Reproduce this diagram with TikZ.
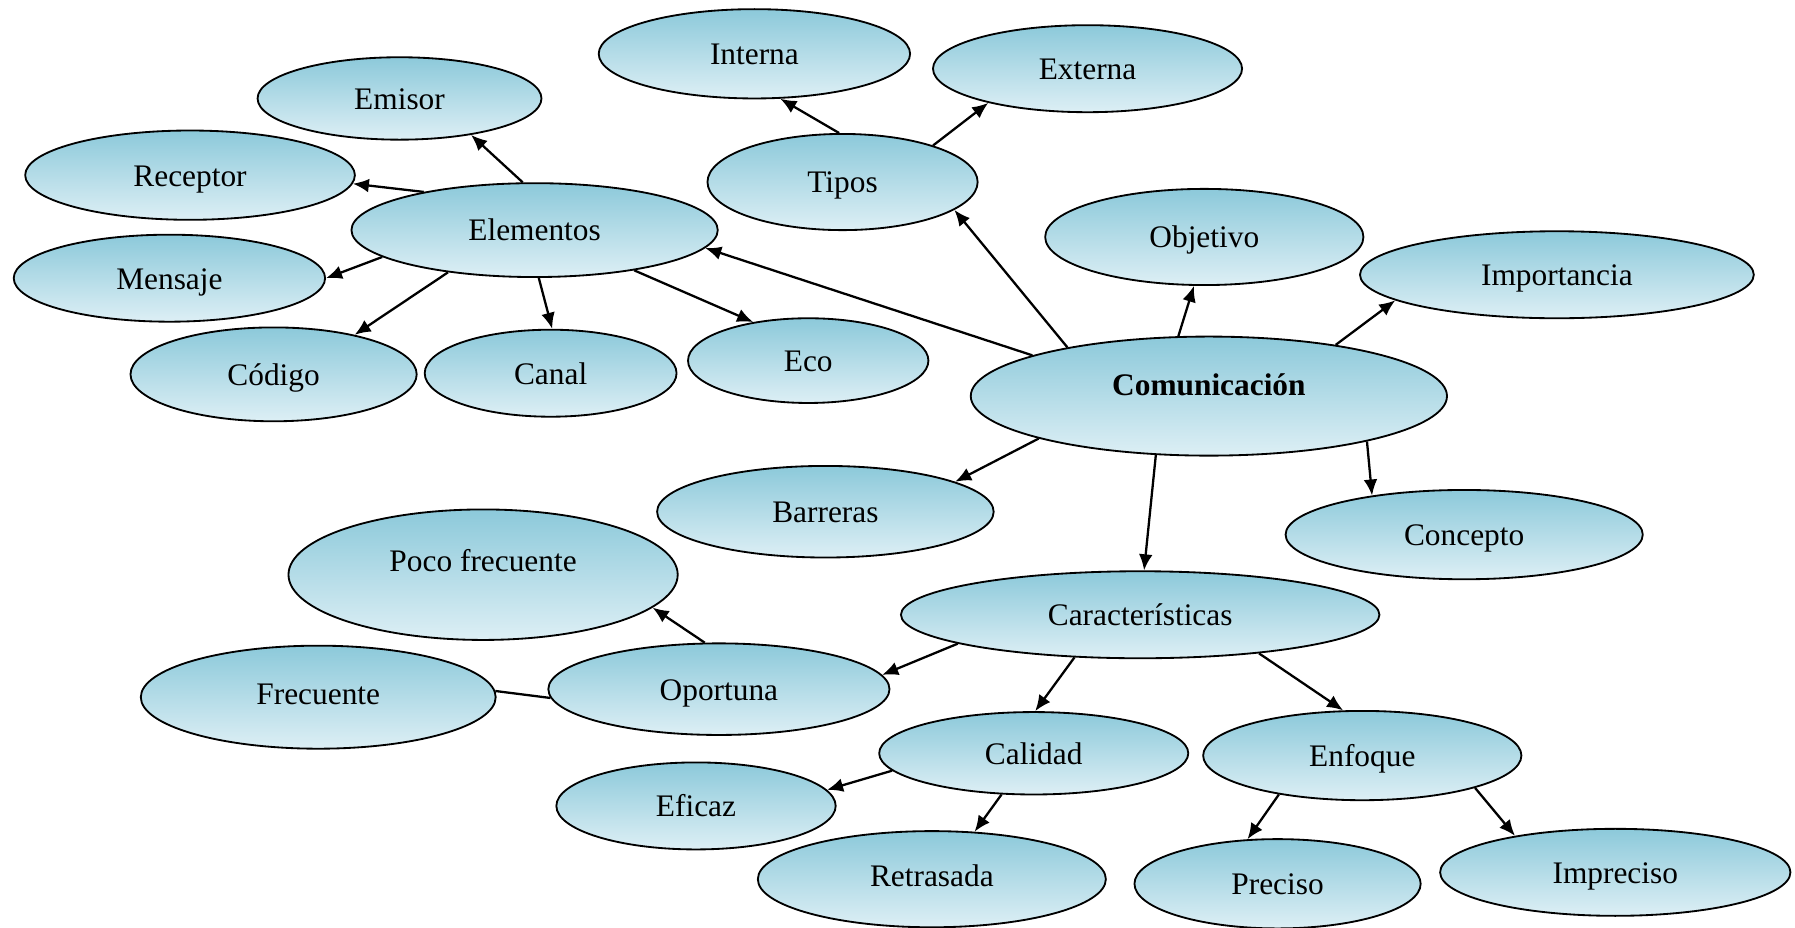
\documentclass[tikz,border=0pt]{standalone}
\usepackage{fontspec}
\setmainfont{Liberation Serif}
\usetikzlibrary{shapes.geometric,arrows.meta}
\definecolor{bubtop}{RGB}{140,201,218}
\definecolor{bubbot}{RGB}{221,239,245}
\tikzset{
  bub/.style 2 args={ellipse, draw=black, line width=0.8pt,
    top color=bubtop, bottom color=bubbot,
    minimum width=#1pt, minimum height=#2pt, inner sep=0pt,
    text height=11pt, text depth=1.5pt,
    font=\fontsize{13.7}{16}\selectfont},
  arr/.style={line width=1pt, -{Latex[length=7pt,width=6pt]}},
  plainline/.style={line width=1pt}
}
\begin{document}
\begin{tikzpicture}[x=0.5pt,y=-0.5pt]
\useasboundingbox (0,0) rectangle (1568,810);

% concept bubbles (centre, then half-axes in px)
\node[bub={136}{39}] (int) at (659,47) {Interna};
\node[bub={135}{38}] (ext) at (950,60) {Externa};
\node[bub={124}{36}] (emi) at (349,86) {Emisor};
\node[bub={144}{39}] (rec) at (166,153) {Receptor};
\node[bub={118}{42}] (tip) at (736,159) {Tipos};
\node[bub={160}{41}] (ele) at (467,201) {Elementos};
\node[bub={139}{42}] (obj) at (1052,207) {Objetivo};
\node[bub={172}{38}] (imp) at (1360,240) {Importancia};
\node[bub={136}{38}] (men) at (148,243) {Mensaje};
\node[bub={125}{41}] (cod) at (239,327) {Código};
\node[bub={110}{38}] (can) at (481,326) {Canal};
\node[bub={105}{37}] (eco) at (706,315) {Eco};
\node[bub={208}{52}, text height=9.5pt, text depth=10pt] (com) at (1056,346) {\bfseries Comunicación};
\node[bub={147}{40}] (bar) at (721,447) {Barreras};
\node[bub={156}{39}] (con) at (1279,467) {Concepto};
\node[bub={170}{57}, text depth=13.5pt] (poc) at (422,502) {Poco frecuente};
\node[bub={209}{38}] (car) at (996,537) {Características};
\node[bub={155}{45}, text height=9.5pt, text depth=3pt] (fre) at (278,609) {Frecuente};
\node[bub={149}{40}] (opo) at (628,602) {Oportuna};
\node[bub={135}{36}] (cal) at (903,658) {Calidad};
\node[bub={139}{39}] (enf) at (1190,660) {Enfoque};
\node[bub={122}{38}] (efi) at (608,704) {Eficaz};
\node[bub={152}{42}, text height=9.5pt, text depth=3pt] (ret) at (814,768) {Retrasada};
\node[bub={125}{39}] (pre) at (1116,772) {Preciso};
\node[bub={153}{38}] (ipr) at (1411,762) {Impreciso};

% connectors
\draw[arr] (tip.94)  -- (int.300);
\draw[arr] (tip.22)  -- (ext.199);
\draw[arr] (ele.104) -- (emi.333);
\draw[arr] (ele.161) -- (rec.357);
\draw[arr] (ele.190) -- (men.0);
\draw[arr] (ele.206) -- (cod.26);
\draw[arr] (ele.275) -- (can.88);
\draw[arr] (ele.338) -- (eco.145);
\draw[arr] (com.167) -- (ele.354);
\draw[arr] (com.161) -- (tip.346);
\draw[arr] (com.117) -- (obj.258);
\draw[arr] (com.22)  -- (imp.189);
\draw[arr] (com.194) -- (bar.13);
\draw[arr] (com.344) -- (con.157);
\draw[arr] (com.228) -- (car.85);
\draw[arr] (car.189) -- (opo.5);
\draw[arr] (car.213) -- (cal.88);
\draw[arr] (car.342) -- (enf.113);
\draw[arr] (opo.107) -- (poc.349);
\draw[plainline] (opo.183) -- (fre.2);
\draw[arr] (cal.187) -- (efi.7);
\draw[arr] (cal.232) -- (ret.48);
\draw[arr] (enf.205) -- (pre.124);
\draw[arr] (enf.344) -- (ipr.160);
\end{tikzpicture}
\end{document}
